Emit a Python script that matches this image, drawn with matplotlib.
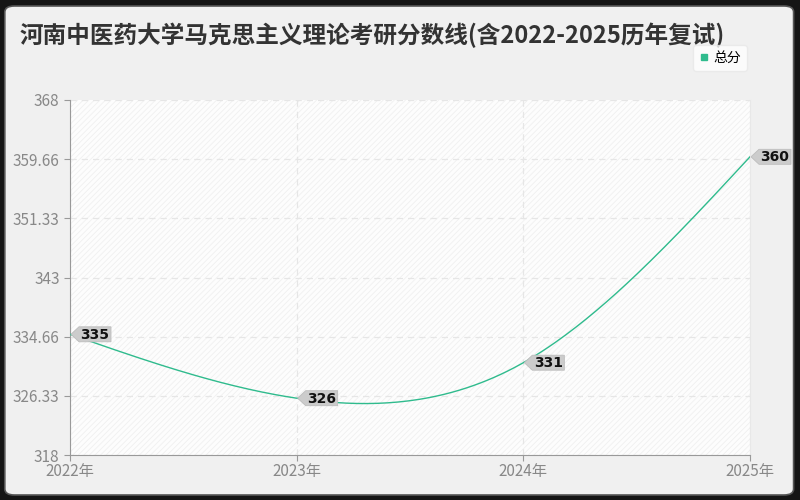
import numpy as np
import matplotlib.pyplot as plt
from matplotlib.patches import FancyBboxPatch, Rectangle, Polygon
from matplotlib.lines import Line2D
from matplotlib.transforms import IdentityTransform

plt.rcParams['font.family'] = ['Noto Sans CJK SC', 'DejaVu Sans']

### data
years = ['2022年', '2023年', '2024年', '2025年']
scores = [335, 326, 331, 360]
yticks = [318, 326.33, 334.66, 343, 351.33, 359.66, 368]
ytick_labels = ['318', '326.33', '334.66', '343', '351.33', '359.66', '368']

line_color = '#2fbb8d'

### natural cubic spline for the smooth line
def natural_spline(xs, ys, n=200):
    xs = np.asarray(xs, float)
    ys = np.asarray(ys, float)
    k = len(xs)
    h = np.diff(xs)
    A = np.zeros((k, k))
    b = np.zeros(k)
    A[0, 0] = 1
    A[-1, -1] = 1
    for i in range(1, k - 1):
        A[i, i - 1] = h[i - 1]
        A[i, i] = 2 * (h[i - 1] + h[i])
        A[i, i + 1] = h[i]
        b[i] = 6 * ((ys[i + 1] - ys[i]) / h[i] - (ys[i] - ys[i - 1]) / h[i - 1])
    M = np.linalg.solve(A, b)
    xx = np.linspace(xs[0], xs[-1], n)
    yy = np.zeros_like(xx)
    for j, x in enumerate(xx):
        i = min(np.searchsorted(xs, x, side='right') - 1, k - 2)
        t = (x - xs[i]) / h[i]
        yy[j] = ((1 - t) * ys[i] + t * ys[i + 1]
                 - h[i] ** 2 * t * (1 - t) / 6 * ((2 - t) * M[i] + (1 + t) * M[i + 1]))
    return xx, yy

x = np.arange(len(years))
xs, ys = natural_spline(x, scores)

fig = plt.figure(figsize=(8, 5), dpi=100)
fig.patch.set_facecolor('#151515')
card = FancyBboxPatch((0.006, 0.01), 0.986, 0.978, boxstyle='round,pad=0,rounding_size=0.012',
                      transform=fig.transFigure, fc='#f0f0f0', ec='#555555', lw=1.2, zorder=-10)
fig.patches.append(card)

ax = fig.add_axes([0.0875, 0.09, 0.85, 0.71])
ax.set_facecolor('white')
plt.rcParams['hatch.color'] = '#eeeeee'
plt.rcParams['hatch.linewidth'] = 0.6
ax.add_patch(Rectangle((0, 0), 1, 1, transform=ax.transAxes, fc='#fdfdfd',
                       ec='#f0f0f0', hatch='//////', lw=0, zorder=0))

ax.plot(xs, ys, color=line_color, lw=1, zorder=3)

ax.set_xlim(0, 3)
ax.set_ylim(318, 368)

# value tags: small arrow + grey box to the right of each point (pixel offsets)
for xi, yi in zip(x, scores):
    px, py = ax.transData.transform((xi, yi))
    tip, w, hh = 8, 32, 7.5
    poly = Polygon([(px + 1, py), (px + 1 + tip, py + hh), (px + 1 + tip + w, py + hh),
                    (px + 1 + tip + w, py - hh), (px + 1 + tip, py - hh)],
                   closed=True, transform=IdentityTransform(), fc='#cccccc',
                   ec='#bdbdbd', lw=0.6, zorder=5, clip_on=False)
    fig.patches.append(poly)
    fig.text((px + 1 + tip + w / 2) / 800, (py - 0.5) / 500, str(yi), ha='center', va='center',
             fontsize=10, fontweight='bold', family=['DejaVu Sans'], color='#111111', zorder=6)

ax.set_xticks(x)
ax.set_xticklabels(years)
ax.set_yticks(yticks)
ax.set_yticklabels(ytick_labels)
ax.tick_params(axis='both', colors='#999999', labelcolor='#888888', labelsize=11, length=4)
ax.tick_params(axis='x', pad=2)

ax.grid(True, color='#e6e6e6', linestyle=(0, (5, 4)), lw=0.9)
ax.set_axisbelow(True)
ax.spines['top'].set_visible(False)
ax.spines['right'].set_color('#e8e8e8')
ax.spines['left'].set_color('#999999')
ax.spines['bottom'].set_color('#999999')

fig.text(0.025, 0.929, '河南中医药大学马克思主义理论考研分数线(含2022-2025历年复试)',
         fontsize=17, fontweight='bold', color='#333333', va='center')

handle = Line2D([], [], marker='s', color=line_color, lw=0, markersize=4)
leg = fig.legend([handle], ['总分'], loc='center', bbox_to_anchor=(0.9, 0.884),
                 frameon=True, fontsize=10, handletextpad=0.3, borderpad=0.4,
                 handlelength=0.8, fancybox=True)
leg.get_frame().set_facecolor('white')
leg.get_frame().set_edgecolor('#e8e8e8')

fig.savefig('out.png', dpi=100, facecolor=fig.get_facecolor())
